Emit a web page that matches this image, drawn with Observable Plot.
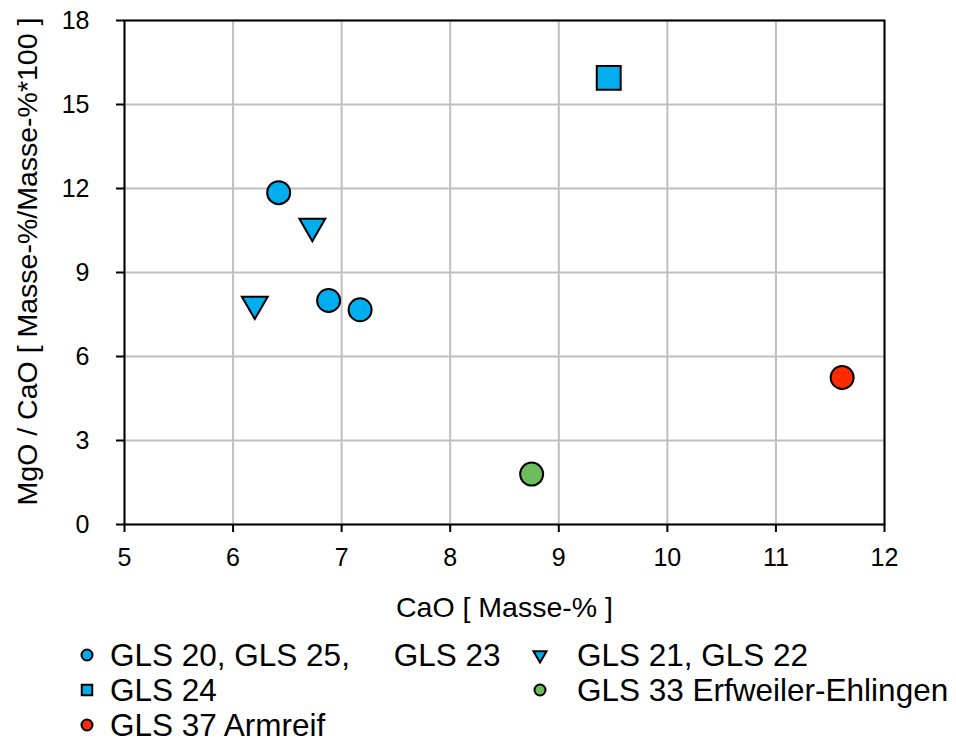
<!DOCTYPE html>
<html><head><meta charset="utf-8">
<script src="https://cdn.jsdelivr.net/npm/d3@7"></script>
<script src="https://cdn.jsdelivr.net/npm/@observablehq/plot@0.6"></script>
<style>
body{margin:0;background:#fff;font-family:"Liberation Sans",Arial,Helvetica,sans-serif}
#wrap{position:relative;width:956px;height:743px}
#legend{position:absolute;left:0;top:630px;width:956px;height:113px}
.item{position:absolute;height:34px;line-height:34px;white-space:pre;font-size:31.5px;color:#000}
.item svg{position:absolute;overflow:visible}
</style>
</head><body><div id="wrap"><div id="chart"></div><div id="legend"></div></div>
<script>
const seriesNames = ["GLS 20, GLS 25,     GLS 23", "GLS 21, GLS 22", "GLS 24", "GLS 33 Erfweiler-Ehlingen", "GLS 37 Armreif"];
const seriesSymbols = ["circle", "triangle", "square", "circle", "circle"];
const seriesRotate = [0, 180, 0, 0, 0];
const seriesColors = ["#00AEEF", "#00AEEF", "#00AEEF", "#6CBD5C", "#FF2A00"];
const caoValues = [[6.42, 6.88, 7.17], [6.73, 6.20], [9.46], [8.75], [11.61]];
const mgoCaoValues = [[11.85, 8.0, 7.67], [10.65, 7.87], [15.95], [1.8], [5.25]];
const xTicks = [5, 6, 7, 8, 9, 10, 11, 12];
const yTicks = [0, 3, 6, 9, 12, 15, 18];
const xLabel = "CaO [ Masse-% ]";
const yLabel = "MgO / CaO [ Masse-%/Masse-%*100 ]";

const markerR = {circle: 11.5, square: 13.5, triangle: 9.6};
const FONT = '"Liberation Sans", Arial, Helvetica, sans-serif';

const rows = [];
seriesNames.forEach((name, i) => {
  caoValues[i].forEach((x, j) => rows.push({series: name, x, y: mgoCaoValues[i][j], i}));
});

const dotMarks = seriesNames.map((name, i) => Plot.dot(rows.filter(d => d.i === i), {
  x: "x", y: "y", symbol: () => seriesSymbols[i], r: markerR[seriesSymbols[i]],
  rotate: seriesRotate[i], fill: seriesColors[i], stroke: "#000", strokeWidth: 2, fillOpacity: 1
}));

const chart = Plot.plot({
  width: 956, height: 630,
  marginLeft: 124, marginRight: 72, marginTop: 20, marginBottom: 106,
  style: {fontFamily: FONT, fontSize: "25px", color: "#000", background: "#fff", overflow: "visible"},
  x: {domain: [5, 12], ticks: xTicks, label: null},
  y: {domain: [0, 18], ticks: yTicks, label: null},
  symbol: {type: "identity"},
  marks: [
    Plot.gridX(xTicks, {stroke: "#BFBFBF", strokeOpacity: 1, strokeWidth: 2}),
    Plot.gridY(yTicks, {stroke: "#BFBFBF", strokeOpacity: 1, strokeWidth: 2}),
    Plot.frame({stroke: "#000", strokeWidth: 2}),
    Plot.axisX(xTicks, {tickSize: 8, strokeWidth: 2, tickFormat: () => "", label: null}),
    Plot.axisY(yTicks, {tickSize: 8, strokeWidth: 2, tickFormat: () => "", label: null}),
    Plot.text(xTicks, {x: d => d, frameAnchor: "bottom", dy: 33, lineAnchor: "middle", textAnchor: "middle", fontSize: 25, text: d => String(d)}),
    Plot.text(yTicks, {y: d => d, frameAnchor: "left", dx: -35, textAnchor: "end", lineAnchor: "middle", fontSize: 25, text: d => String(d)}),
    Plot.text([xLabel], {frameAnchor: "bottom", dy: 83, lineAnchor: "middle", textAnchor: "middle", fontSize: 28.5, text: d => d}),
    Plot.text([yLabel], {frameAnchor: "left", dx: -97, dy: -11, rotate: -90, textAnchor: "middle", lineAnchor: "middle", fontSize: 28.5, text: d => d}),
    ...dotMarks
  ]
});
document.getElementById("chart").appendChild(chart);

// Legend (HTML below the SVG)
const legendPos = [[0, 0], [1, 0], [0, 1], [1, 1], [0, 2]];
const colX = [[87, 110], [540, 577]];
const legend = document.getElementById("legend");
seriesNames.forEach((name, i) => {
  const [c, r] = legendPos[i];
  const item = document.createElement("div");
  item.className = "item";
  item.style.left = colX[c][1] + "px";
  item.style.top = (8 + r * 35) + "px";
  item.textContent = name;
  const s = d3.create("svg").attr("width", 1).attr("height", 1)
    .style("left", (colX[c][0] - colX[c][1]) + "px").style("top", "17px");
  const sym = {circle: d3.symbolCircle, square: d3.symbolSquare, triangle: d3.symbolTriangle}[seriesSymbols[i]];
  const size = {circle: 95, square: 110, triangle: 75}[seriesSymbols[i]];
  s.append("path").attr("d", d3.symbol(sym, size)())
    .attr("transform", `rotate(${seriesRotate[i]})`)
    .attr("fill", seriesColors[i]).attr("stroke", "#000").attr("stroke-width", 2);
  item.appendChild(s.node());
  legend.appendChild(item);
});
</script></body></html>
